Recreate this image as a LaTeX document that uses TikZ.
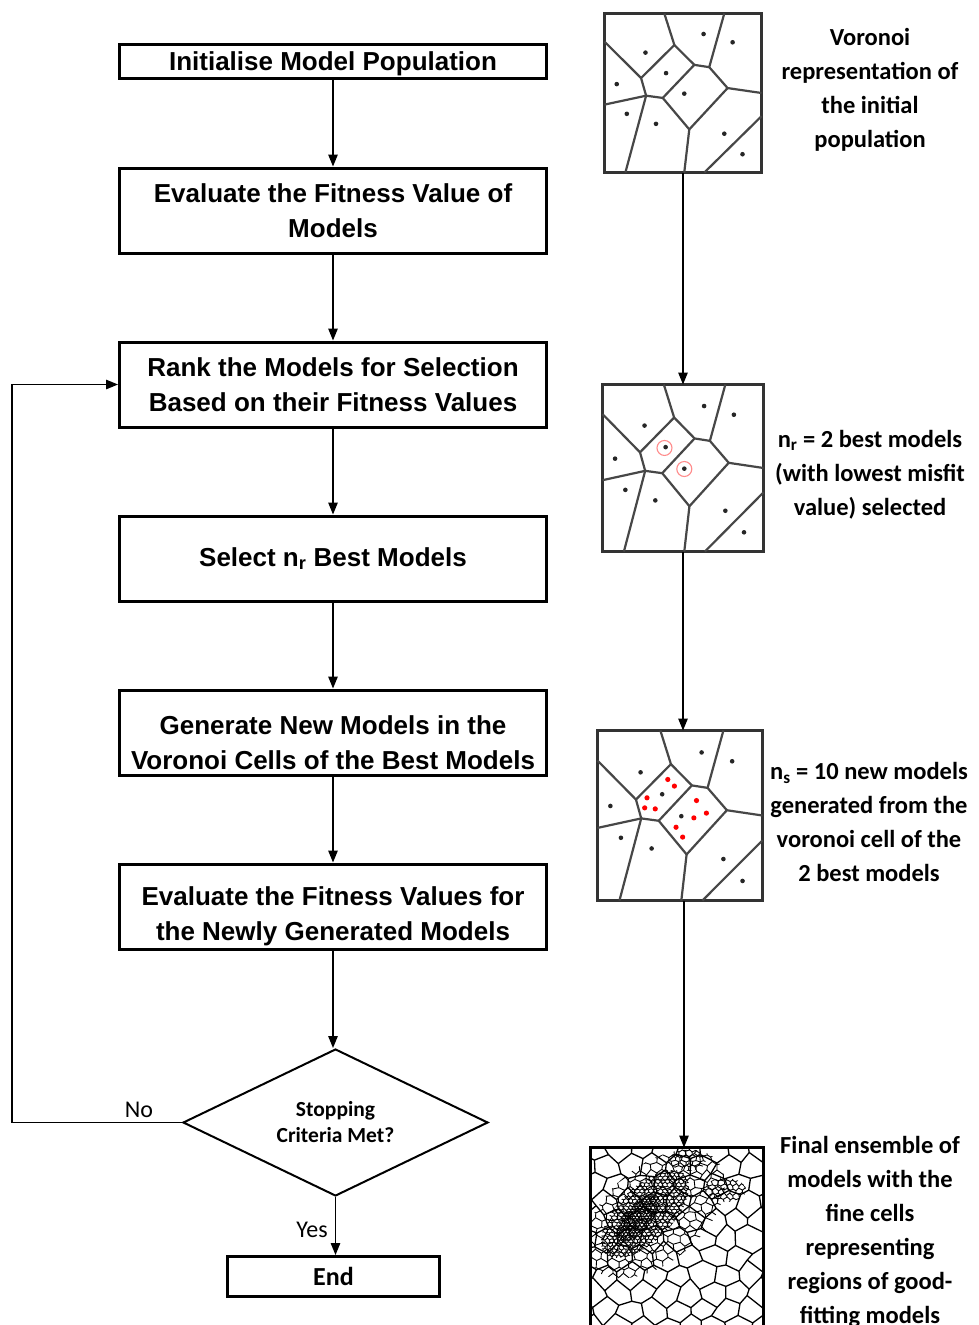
\documentclass[tikz,border=0pt]{standalone}
\usepackage{fontspec}
\setmainfont{Liberation Sans}
\newfontfamily\calib{Carlito}
\usetikzlibrary{arrows.meta,shapes.geometric}

\newcommand\vorcells[1]{%
  \draw[vline] (0.445,0.198) -- (0.572,0.323) -- (0.667,0.3375) -- (0.784,0.469) -- (0.540,0.729) -- (0.371,0.531) -- (0.265,0.517) -- (0.233,0.406) -- cycle;
  \draw[vline] (0.572,0.323) -- (0.371,0.531);
  \draw[vline] (0.381,0) -- (0.445,0.198);
  \draw[vline] (0.763,0) -- (0.667,0.3375);
  \draw[vline] (0.784,0.469) -- (1,0.5);
  \draw[vline] (0.540,0.729) -- (0.508,1);
  \draw[vline] (0.233,0.406) -- (0,0.177);
  \draw[vline] (0.265,0.517) -- (0,0.573);
  \draw[vline] (0.265,0.517) -- (0.133,1);
  \draw[vline] (1,0.646) -- (0.636,1);
  \foreach \p [count=\k] in {{0.631,0.129},{0.816,0.181},{0.261,0.246},{0.392,0.375},{0.078,0.444},{0.508,0.504},{0.142,0.631},{0.328,0.694},{0.763,0.756},{0.879,0.885}}
    \node[vdot] (#1d\k) at (\p) {};
}

% #1 name, #2 x0, #3 y0, #4 dx, #5 dy, #6 nx, #7 ny, #8 jitter, #9 style
\newcommand\mesh[9]{%
  \foreach \i in {0,...,#6}{%
    \foreach \j in {0,...,#7}{%
      \pgfmathsetmacro\mx{#2+\i*#4+#8*rand}%
      \pgfmathsetmacro\my{#3+\j*#5+#8*rand+#5*0.2*(1-2*mod(\i+\j,2))}%
      \coordinate (#1-\i-\j) at (\mx,\my);
    }%
  }%
  \pgfmathtruncatemacro\nxm{#6-1}%
  \pgfmathtruncatemacro\nym{#7-1}%
  \foreach \i [evaluate=\i as \ii using {int(\i+1)}] in {0,...,\nxm}{%
    \foreach \j in {0,...,#7}{%
      \draw[#9] (#1-\i-\j) -- (#1-\ii-\j);
    }%
  }%
  \foreach \i in {0,...,#6}{%
    \foreach \j [evaluate=\j as \jj using {int(\j+1)}] in {0,...,\nym}{%
      \pgfmathtruncatemacro\pp{mod(\i+\j,2)}%
      \ifnum\pp=0 \draw[#9] (#1-\i-\j) -- (#1-\i-\jj);\fi
    }%
  }%
}

\begin{document}
\begin{tikzpicture}[x=1pt,y=-1pt,
  flowbox/.style={draw, line width=3pt, minimum width=427pt, minimum height=85pt, align=center, inner sep=0pt,
    font=\bfseries\fontsize{26}{35}\selectfont},
  arr/.style={line width=1.3pt, -{Triangle[length=12pt,width=9.5pt]}},
  imgframe/.style={draw=black!80, line width=2.6pt, inner sep=0pt, outer sep=0pt},
  vline/.style={line width=2.2pt, draw=black!72, line join=round},
  vdot/.style={circle, fill=black!85, inner sep=0pt, minimum size=4.6pt},
  rdot/.style={circle, fill=red, inner sep=0pt, minimum size=5.2pt},
  rring/.style={circle, draw=red!45, line width=1.1pt, inner sep=0pt, minimum size=15pt},
  rtext/.style={align=center, font=\calib\bfseries\fontsize{24.5}{34}\selectfont},
  lbl/.style={font=\calib\fontsize{24}{28}\selectfont},
  cmesh/.style={line width=1.3pt, line join=round},
  mmesh/.style={line width=0.9pt, line join=round},
  fmesh/.style={line width=0.9pt},
  xmesh/.style={line width=0.8pt},
]
\useasboundingbox (0,0) rectangle (978,1325);
\fill[white] (0,0) rectangle (978,1325);

% ---------- flowchart ----------
\node[flowbox, minimum height=34pt, text height=21pt, text depth=3pt] (b1) at (333,61.5) {Initialise Model Population};
\node[flowbox] (b2) at (333,210.5) {Evaluate the Fitness Value of\\Models};
\node[flowbox] (b3) at (333,384.5) {Rank the Models for Selection\\Based on their Fitness Values};
\node[flowbox] (b4) at (333,558.5) {Select n\textsubscript{r} Best Models};
\node[flowbox, label={[align=center, font=\bfseries\fontsize{26}{35}\selectfont, yshift=-10pt]center:{Generate New Models in the\\Voronoi Cells of the Best Models}}] (b5) at (333,732.5) {};
\node[flowbox, label={[align=center, font=\bfseries\fontsize{26}{35}\selectfont, yshift=-10pt]center:{Evaluate the Fitness Values for\\the Newly Generated Models}}] (b6) at (333,906.5) {};
\node[draw, diamond, line width=2pt, minimum width=305pt, minimum height=147pt, aspect=2.07, inner sep=0pt,
      align=center, font=\calib\bfseries\fontsize{21.5}{26}\selectfont] (dec) at (335.5,1122.5) {Stopping\\Criteria Met?};
\node[flowbox, minimum width=212pt, minimum height=40pt, font=\calib\bfseries\fontsize{26}{30}\selectfont] (end) at (333.5,1276.5) {End};

\draw[arr] (b1.south) -- (b2.north);
\draw[arr] (b2.south) -- (b3.north);
\draw[arr] (b3.south) -- (b4.north);
\draw[arr] (b4.south) -- (b5.north);
\draw[arr] (b5.south) -- (b6.north);
\draw[arr] (b6.south) -- (b6.south |- dec.north);
\draw[arr] (dec.south) -- (dec.south |- end.north);
\coordinate (lc) at (12,1122.5);
\draw[arr] (dec.west) -- (lc) |- (b3.west);
\node[lbl] (no) at (139,1110) {No};
\node[lbl] (yes) at (312,1230) {Yes};

% ---------- voronoi images ----------
\node[imgframe, minimum width=157pt, minimum height=159pt] (i1) at (683,93) {};
\node[imgframe, minimum width=161pt, minimum height=167pt] (i2) at (683,468) {};
\node[imgframe, minimum width=165pt, minimum height=170pt] (i3) at (680,815.5) {};

\begin{scope}[shift={(i1.north west)}, xscale=157, yscale=159]
  \vorcells{a}
\end{scope}
\begin{scope}[shift={(i2.north west)}, xscale=161, yscale=167]
  \vorcells{b}
  \node[rring] (rr1) at (0.385,0.38) {};
  \node[rring] (rr2) at (0.508,0.506) {};
\end{scope}
\begin{scope}[shift={(i3.north west)}, xscale=165, yscale=170]
  \vorcells{c}
  \foreach \p [count=\k] in {{0.426,0.288},{0.466,0.327},{0.300,0.396},{0.286,0.455},{0.350,0.461},{0.600,0.412},{0.660,0.486},{0.584,0.514},{0.476,0.569},{0.516,0.627}}
    \node[rdot] (rd\k) at (\p) {};
\end{scope}

% final ensemble
\pgfmathsetseed{4242}
\begin{scope}
  \clip (590.5,1147.5) rectangle (763.5,1345);
  \mesh{c}{582}{1140}{12}{18}{16}{11}{3.2}{cmesh}
  \begin{scope}
    \clip[rotate around={40:(655,1214)}] (655,1214) ellipse [x radius=82, y radius=48];
    \mesh{m}{580}{1140}{5.5}{8}{30}{20}{1.4}{mmesh}
  \end{scope}
  \begin{scope}
    \clip[rotate around={45:(645,1214)}] (645,1214) ellipse [x radius=56, y radius=27];
    \mesh{f}{596}{1160}{2.3}{3.3}{46}{33}{0.55}{fmesh}
  \end{scope}
  \begin{scope}
    \clip[rotate around={50:(638,1218)}] (638,1218) ellipse [x radius=30, y radius=13];
    \mesh{x}{605}{1185}{1.6}{2.4}{42}{28}{0.4}{xmesh}
  \end{scope}
  \begin{scope}
    \clip (725,1190) ellipse [x radius=21, y radius=12];
    \mesh{r}{703}{1176}{3}{4.5}{15}{7}{0.7}{fmesh}
  \end{scope}
  \begin{scope}
    \clip (688,1160) ellipse [x radius=18, y radius=11];
    \mesh{t}{668}{1146}{3.5}{5}{12}{6}{0.7}{fmesh}
  \end{scope}
\end{scope}
\node[imgframe, draw=black, minimum width=173pt, minimum height=195pt] (i4) at (677,1245) {};

\draw[arr] (i1.south) -- (i1.south |- i2.north);
\draw[arr] (i2.south) -- (i2.south |- i3.north);
\draw[arr] ([xshift=4pt]i3.south) -- ([xshift=4pt]i3.south |- i4.north);

% ---------- right texts ----------
\node[rtext] (t1) at (870,90) {Voronoi\\representation of\\the initial\\population};
\node[rtext] (t2) at (870,474.5) {n\textsubscript{r} = 2 best models\\(with lowest misfit\\value) selected};
\node[rtext] (t3) at (869,822) {n\textsubscript{s} = 10 new models\\generated from the\\voronoi cell of the\\2 best models};
\node[rtext] (t4) at (870,1232) {Final ensemble of\\models with the\\fine cells\\representing\\regions of good-\\fitting models};
\end{tikzpicture}
\end{document}
